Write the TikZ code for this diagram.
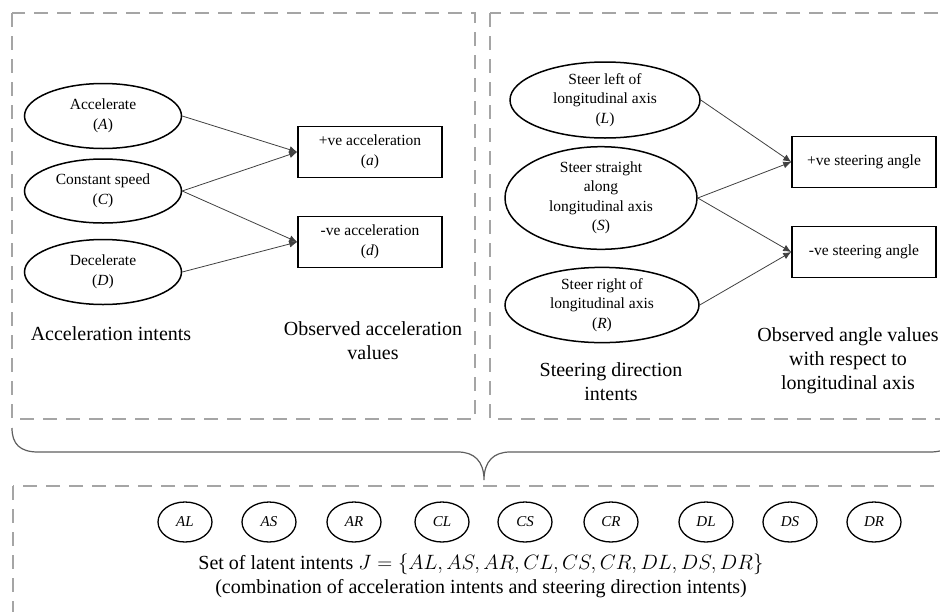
\documentclass[tikz,border=0pt]{standalone}
\usepackage{fontspec}
\setmainfont{Liberation Serif}
\usetikzlibrary{shapes.geometric,arrows.meta}
\definecolor{dashgray}{RGB}{165,165,165}
\definecolor{bracegray}{RGB}{95,95,95}
\begin{document}
\begin{tikzpicture}[x=1pt,y=-1pt,
  dbox/.style={draw=dashgray, line width=1.7pt, dash pattern=on 14pt off 9pt},
  intent/.style={ellipse, draw, line width=1.5pt, align=center, inner sep=0pt, font=\fontsize{15.5}{19.5}\selectfont},
  obs/.style={rectangle, draw, line width=1.5pt, align=center, minimum width=144pt, minimum height=51pt, inner sep=0pt, font=\fontsize{15.5}{20}\selectfont},
  lat/.style={ellipse, draw, line width=1.3pt, minimum width=54pt, minimum height=40pt, inner sep=0pt, font=\fontsize{15}{18}\selectfont\itshape},
  lbl/.style={align=center, font=\fontsize{20}{24}\selectfont},
  arr/.style={draw=black!75, line width=0.8pt, -{Latex[length=8pt,width=7pt]}}
]
\useasboundingbox (0,0) rectangle (940,611);
\clip (0,0) rectangle (940,611);

% dashed panels
\draw[dbox] (12,13) rectangle (475,419);
\draw[dbox] (490,13) rectangle (975,419);
\draw[dbox] (13,486) rectangle (975,640);

% left panel
\node[intent, minimum width=157pt, minimum height=65pt] (acc) at (103,116) {Accelerate\\(\textit{A})};
\node[intent, minimum width=157pt, minimum height=64pt] (con) at (103,191) {Constant speed\\(\textit{C})};
\node[intent, minimum width=157pt, minimum height=65pt] (dec) at (103,272) {Decelerate\\(\textit{D})};
\node[obs] (pa) at (370,152) {+ve acceleration\\(\textit{a})};
\node[obs] (na) at (370,242) {-ve acceleration\\(\textit{d})};
\draw[arr] (acc.east) -- (pa.west);
\draw[arr] (con.east) -- (pa.west);
\draw[arr] (con.east) -- (na.west);
\draw[arr] (dec.east) -- (na.west);
\node[lbl] (lacc) at (111,334) {Acceleration intents};
\node[lbl] (lobsa) at (373,341) {Observed acceleration\\values};

% right panel
\node[intent, minimum width=190pt, minimum height=76pt] (sl) at (605,100) {Steer left of\\longitudinal axis\\(\textit{L})};
\node[intent, minimum width=192pt, minimum height=84pt] (ss) at (601,198) {Steer straight\\along\\longitudinal axis\\(\textit{S})};
\node[intent, minimum width=194pt, minimum height=74pt] (sr) at (602,305) {Steer right of\\longitudinal axis\\(\textit{R})};
\node[obs] (ps) at (864,162) {+ve steering angle};
\node[obs] (ns) at (864,252) {-ve steering angle};
\draw[arr] (sl.east) -- (ps.west);
\draw[arr] (ss.east) -- (ps.west);
\draw[arr] (ss.east) -- (ns.west);
\draw[arr] (sr.east) -- (ns.west);
\node[lbl] (lsd) at (611,382) {Steering direction\\intents};
\node[lbl] (lobss) at (848,361) {Observed angle values\\with respect to\\longitudinal axis};

% brace
\draw[bracegray, line width=1.2pt]
  (12,428) .. controls (12,444) and (20,452) .. (38,452) -- (458,452)
  .. controls (474,452) and (484,461) .. (484,480)
  .. controls (484,461) and (494,452) .. (510,452) -- (930,452)
  .. controls (948,452) and (956,444) .. (956,428);

% latent intents
\node[lat] (al) at (185,522) {AL};
\node[lat] (as) at (269,522) {AS};
\node[lat] (ar) at (354,522) {AR};
\node[lat] (cl) at (442,522) {CL};
\node[lat] (cs) at (525,522) {CS};
\node[lat] (cr) at (611,522) {CR};
\node[lat] (dl) at (706,522) {DL};
\node[lat] (ds) at (790,522) {DS};
\node[lat] (dr) at (874,522) {DR};
\node[lbl] (set) at (481,576) {Set of latent intents $J=\{AL,AS,AR,CL,CS,CR,DL,DS,DR\}$\\(combination of acceleration intents and steering direction intents)};
\end{tikzpicture}
\end{document}
